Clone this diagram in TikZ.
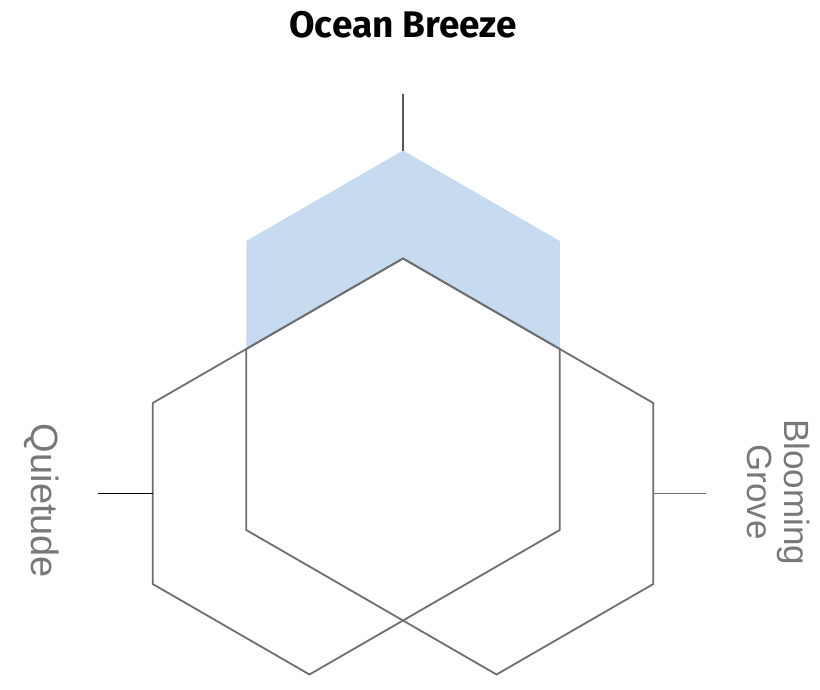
\documentclass[tikz,border=0pt]{standalone}
\usepackage{fontspec}
\setmainfont{Liberation Sans}
\newfontfamily\headfont{Fira Sans}
\usetikzlibrary{calc}
\definecolor{hexline}{RGB}{110,110,112}
\definecolor{axisdark}{RGB}{85,85,90}
\definecolor{hexfill}{RGB}{198,219,239}
\definecolor{labelgrey}{RGB}{120,120,122}
\tikzset{
  hexedge/.style={draw=hexline, line width=1.8pt, line join=miter},
  tickline/.style={line width=1.8pt},
  sidelabel/.style={text=labelgrey, align=center, rotate=-90, inner sep=0pt},
  headlabel/.style={text=black, font=\headfont\bfseries\fontsize{37}{37}\selectfont, inner sep=0pt}
}
\begin{document}
\begin{tikzpicture}[x=1pt,y=-1pt]
\useasboundingbox (0,0) rectangle (820,689);
% global centre and hexagon offsets
\coordinate (O) at (403,439.5);
\coordinate (T)  at ($(O)+(0,-181)$);
\coordinate (UR) at ($(O)+(156.75,-90.5)$);
\coordinate (LR) at ($(O)+(156.75,90.5)$);
\coordinate (B)  at ($(O)+(0,181)$);
\coordinate (LL) at ($(O)+(-156.75,90.5)$);
\coordinate (UL) at ($(O)+(-156.75,-90.5)$);
% shifted vertices
\coordinate (Tt)  at ($(T)+(0,-108)$);
\coordinate (URt) at ($(UR)+(0,-108)$);
\coordinate (ULt) at ($(UL)+(0,-108)$);
\coordinate (ULl) at ($(UL)+(-93.53,54)$);
\coordinate (LLl) at ($(LL)+(-93.53,54)$);
\coordinate (Bl)  at ($(B)+(-93.53,54)$);
\coordinate (URr) at ($(UR)+(93.53,54)$);
\coordinate (LRr) at ($(LR)+(93.53,54)$);
\coordinate (Br)  at ($(B)+(93.53,54)$);
% blue region
\fill[hexfill] (ULt) -- (Tt) -- (URt) -- (UR) -- (T) -- (UL) -- cycle;
% left and right hexagons
\draw[hexedge] (T) -- (ULl) -- (LLl) -- (Bl) -- (LR) -- (UR) -- cycle;
\draw[hexedge] (T) -- (URr) -- (LRr) -- (Br) -- (LL) -- (UL) -- cycle;
% axis ticks
\coordinate (topend) at (403,94);
\coordinate (leftmid) at ($(ULl)!0.5!(LLl)$);
\coordinate (rightmid) at ($(URr)!0.5!(LRr)$);
\coordinate (leftend) at (98,493.5);
\coordinate (rightend) at (706,493.5);
\draw[tickline, axisdark] (topend) -- (Tt);
\draw[tickline, black] (leftend) -- (leftmid);
\draw[tickline, hexline] (rightmid) -- (rightend);
% labels
\node[headlabel, anchor=base] (ocean) at (403,37) {Ocean Breeze};
\node[sidelabel, anchor=base, font=\fontsize{38}{38}\selectfont] (quiet) at (31,501) {Quietude};
\node[sidelabel, font=\fontsize{35}{37}\selectfont] (bloom) at (779,492) {Blooming\\Grove};
\end{tikzpicture}
\end{document}
